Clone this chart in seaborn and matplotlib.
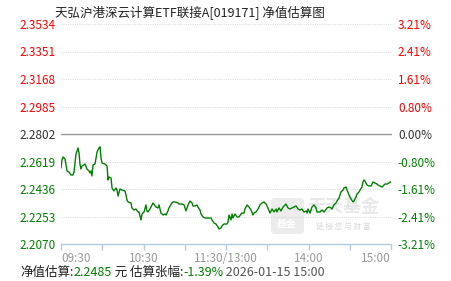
import matplotlib
matplotlib.use("Agg")
import matplotlib.pyplot as plt
from matplotlib.patches import FancyBboxPatch
import seaborn as sns
import pandas as pd

# ---------------- data ----------------
title = "天弘沪港深云计算ETF联接A[019171] 净值估算图"

minutes = [
    0, 0.7, 1.5, 2.9, 4.4, 5.8, 7.3, 8.7, 9.5, 10.2, 10.9, 12.4, 13.1, 13.8, 14.5, 15.3,
    17.5, 18.9, 20.4, 21.1, 21.8, 22.5, 23.3, 24.7, 25.5, 26.2, 27.6, 28.4, 29.1, 29.8,
    32.0, 33.5, 34.2, 34.9, 36.4, 37.1, 38.5, 40.0, 40.7, 41.5, 42.9, 44.4, 46.5, 47.3,
    48.0, 48.7, 50.9, 51.6, 53.1, 54.5, 56.0, 56.7, 58.2, 58.9, 60.4, 61.8, 62.5, 63.3,
    64.7, 66.9, 69.1, 70.5, 71.3, 72.7, 74.2, 75.6, 76.4, 77.8, 78.5, 80.7, 81.5, 82.9,
    85.1, 85.8, 88.0, 89.5, 90.9, 92.4, 93.8, 95.3, 96.0, 97.5, 98.9, 99.6, 101.1, 101.8,
    103.3, 104.7, 106.9, 109.1, 109.8, 111.3, 112.7, 114.2, 114.9, 116.4, 117.1, 118.5,
    120.7, 121.5, 122.2, 123.6, 124.4, 125.1, 126.5, 128.0, 129.5, 130.9, 131.6, 133.1,
    133.8, 135.3, 136.7, 138.2, 139.6, 140.4, 141.8, 143.3, 144.7, 146.2, 147.6, 149.1,
    150.5, 152.0, 153.5, 154.9, 156.4, 157.1, 158.5, 160.0, 161.5, 163.6, 165.1, 166.5,
    168.0, 169.5, 170.9, 172.4, 173.8, 175.3, 176.7, 178.2, 178.9, 179.6, 181.1, 182.5,
    184.0, 185.5, 186.2, 188.4, 189.8, 191.3, 193.5, 194.9, 196.4, 197.1, 198.5, 200.0,
    200.7, 202.2, 202.9, 203.6, 205.1, 205.8, 207.3, 208.0, 209.5, 210.9, 212.4, 213.1,
    214.5, 215.3, 216.7, 217.5, 218.9, 219.6, 220.4, 221.1, 222.5, 224.0, 225.5, 226.2,
    226.9, 228.4, 229.8, 230.5, 232.0, 233.5, 234.2, 235.6, 237.1, 238.5, 240.0,
]
nav = [
    2.2576, 2.2629, 2.2649, 2.2636, 2.2556, 2.2549, 2.2529, 2.2529, 2.2549, 2.2609, 2.2669,
    2.2709, 2.2676, 2.2602, 2.2569, 2.2589, 2.2602, 2.2569, 2.2556, 2.2543, 2.2556, 2.2523,
    2.2596, 2.2602, 2.2642, 2.2682, 2.2709, 2.2716, 2.2642, 2.2609, 2.2602, 2.2589, 2.2496,
    2.2516, 2.2509, 2.2443, 2.2423, 2.2443, 2.2429, 2.2389, 2.2436, 2.2429, 2.2423, 2.2396,
    2.2363, 2.2350, 2.2343, 2.2310, 2.2296, 2.2303, 2.2283, 2.2283, 2.2230, 2.2270, 2.2283,
    2.2330, 2.2290, 2.2283, 2.2303, 2.2343, 2.2316, 2.2310, 2.2330, 2.2276, 2.2263, 2.2270,
    2.2263, 2.2290, 2.2310, 2.2343, 2.2350, 2.2350, 2.2343, 2.2336, 2.2336, 2.2330, 2.2290,
    2.2330, 2.2356, 2.2343, 2.2323, 2.2323, 2.2330, 2.2316, 2.2296, 2.2270, 2.2250, 2.2243,
    2.2243, 2.2243, 2.2230, 2.2210, 2.2203, 2.2183, 2.2170, 2.2177, 2.2190, 2.2203, 2.2203,
    2.2216, 2.2263, 2.2230, 2.2270, 2.2243, 2.2270, 2.2250, 2.2250, 2.2270, 2.2276, 2.2276,
    2.2303, 2.2330, 2.2316, 2.2296, 2.2263, 2.2276, 2.2283, 2.2303, 2.2330, 2.2343, 2.2350,
    2.2336, 2.2310, 2.2276, 2.2303, 2.2283, 2.2303, 2.2283, 2.2310, 2.2290, 2.2316, 2.2336,
    2.2310, 2.2303, 2.2310, 2.2316, 2.2323, 2.2303, 2.2296, 2.2303, 2.2283, 2.2290, 2.2276,
    2.2303, 2.2276, 2.2316, 2.2330, 2.2310, 2.2283, 2.2283, 2.2296, 2.2283, 2.2310, 2.2316,
    2.2310, 2.2303, 2.2330, 2.2343, 2.2356, 2.2376, 2.2396, 2.2416, 2.2429, 2.2443, 2.2449,
    2.2429, 2.2396, 2.2370, 2.2350, 2.2356, 2.2383, 2.2403, 2.2416, 2.2429, 2.2449, 2.2483,
    2.2496, 2.2489, 2.2463, 2.2456, 2.2456, 2.2469, 2.2483, 2.2476, 2.2469, 2.2463, 2.2456,
    2.2449, 2.2456, 2.2469, 2.2469, 2.2476, 2.2485,
]

y_ticks = [2.3534, 2.3351, 2.3168, 2.2985, 2.2802, 2.2619, 2.2436, 2.2253, 2.2070]
y_labels = ["2.3534", "2.3351", "2.3168", "2.2985", "2.2802", "2.2619", "2.2436", "2.2253", "2.2070"]
pct_labels = ["3.21%", "2.41%", "1.61%", "0.80%", "0.00%", "-0.80%", "-1.61%", "-2.41%", "-3.21%"]
base_nav = 2.2802
x_ticks = [0, 30, 60, 90, 120, 150, 180, 210, 240]
x_labels = ["09:30", "", "10:30", "", "11:30/13:00", "", "14:00", "", "15:00"]

est_nav = "2.2485"
est_chg = "-1.39%"
stamp = "2026-01-15 15:00"

# ---------------- style ----------------
sns.set_theme(style="white")
plt.rcParams['font.family'] = ['Noto Sans CJK SC', 'DejaVu Sans']

RED = "#ff0000"
GREEN = "#008000"
DARK = "#333333"

W, H = 451, 281
fig = plt.figure(figsize=(W / 100, H / 100), dpi=100)
ax = fig.add_axes([61 / W, 37 / H, 330 / W, 220 / H])

df = pd.DataFrame({"minute": minutes, "nav": nav})
sns.lineplot(data=df, x="minute", y="nav", ax=ax, color=GREEN, linewidth=1.0, zorder=4)

ax.set_xlim(0, 240)
ax.set_ylim(y_ticks[-1], y_ticks[0])
ax.set_xlabel("")
ax.set_ylabel("")

for v in y_ticks:
    if v == base_nav:
        ax.axhline(v, color="#999999", linewidth=1.0, zorder=2, clip_on=False)
    else:
        ax.axhline(v, color="#dddddd", linewidth=0.8, linestyle=(0, (1, 1)), zorder=2, clip_on=False)

for s in ["top", "left", "right"]:
    ax.spines[s].set_visible(False)
ax.spines["bottom"].set_color("#b8cce0")
ax.spines["bottom"].set_linewidth(1.0)

ax.set_xticks(x_ticks)
ax.set_xticklabels(x_labels)
ax.tick_params(axis="x", direction="out", length=4, width=1, color="#b8cce0",
               labelsize=8.5, labelcolor="#999999", pad=2, bottom=True)
xl = ax.get_xticklabels()
xl[0].set_ha("left")
xl[-1].set_ha("right")

def tick_color(v):
    if v > base_nav:
        return RED
    if v < base_nav:
        return GREEN
    return DARK

ax.set_yticks(y_ticks)
ax.set_yticklabels(y_labels)
ax.tick_params(axis="y", length=0, pad=4, labelsize=8.5)
for lab, v in zip(ax.get_yticklabels(), y_ticks):
    lab.set_color(tick_color(v))

ax2 = ax.twinx()
ax2.set_ylim(y_ticks[-1], y_ticks[0])
ax2.set_yticks(y_ticks)
ax2.set_yticklabels(pct_labels)
ax2.tick_params(axis="y", length=0, pad=5, labelsize=8.5)
for s in ["top", "left", "right", "bottom"]:
    ax2.spines[s].set_visible(False)
for lab, v in zip(ax2.get_yticklabels(), y_ticks):
    lab.set_color(tick_color(v))
ax2.set_zorder(ax.get_zorder() - 1)
ax.patch.set_visible(False)

# watermark (behind the line)
logo = FancyBboxPatch((271 / W, 1 - 234 / H), 33 / W, 36 / H,
                      boxstyle="round,pad=0,rounding_size=0.012",
                      transform=fig.transFigure, facecolor="#ececec", edgecolor="none", zorder=1)
ax.add_artist(logo)
logo.set_clip_on(False)
ax.text(287 / W, 1 - 224 / H, "基金", transform=fig.transFigure, ha="center", va="center",
        fontsize=7, color="white", fontweight="bold", zorder=1.5)
ax.text(343 / W, 1 - 206 / H, "天天基金", transform=fig.transFigure, ha="center", va="center",
        fontsize=13, color="#e8e8e8", fontweight="bold", zorder=1)
ax.text(343 / W, 1 - 227 / H, "链 接 您 与 财 富", transform=fig.transFigure, ha="center", va="center",
        fontsize=5.5, color="#d8d8d8", zorder=1)

# title
fig.text(190 / W, 1 - 13 / H, title, ha="center", va="center", fontsize=9, color="#222222")

# bottom info line with coloured pieces
pieces = [("净值估算:", "#222222"), (est_nav, GREEN), (" 元 估算张幅:", "#222222"),
          (est_chg, GREEN), (" " + stamp, "#555555")]
fig.canvas.draw()
renderer = fig.canvas.get_renderer()
x = 20 / W
for txt, col in pieces:
    t = fig.text(x, 1 - 272 / H, txt, ha="left", va="center", fontsize=9, color=col)
    bb = t.get_window_extent(renderer=renderer)
    x += bb.width / W

fig.savefig("out.png", dpi=100)
